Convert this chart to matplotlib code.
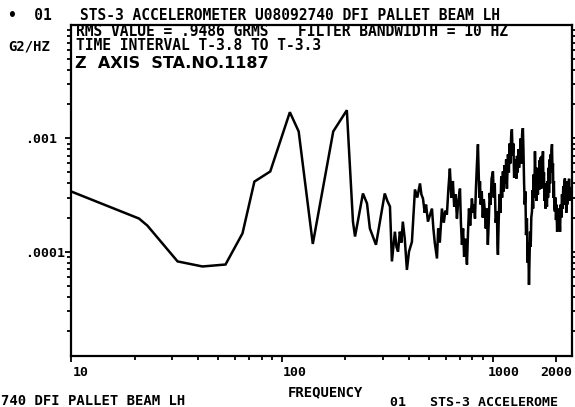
import matplotlib
matplotlib.use("Agg")
import matplotlib.pyplot as plt
from matplotlib.ticker import LogLocator, NullFormatter
import matplotlib.transforms as mtrans

# ---------------- data ----------------
freq_hz = [10, 21, 23, 32, 42, 54, 65, 74, 88, 109, 120, 140, 175, 203, 217, 222,
           242, 253, 261, 279, 307, 316, 325, 332, 343, 349, 355, 362, 368, 374, 382,
           391, 400, 413, 427, 438, 451, 458, 466, 475, 482, 492, 503, 514, 522, 530,
           543, 550, 560, 573, 585, 595, 605, 615, 625, 635, 646, 655, 665, 675, 685,
           698, 705, 713, 722, 730, 740, 753, 762, 770, 780, 795, 805, 815, 822, 830,
           840, 849, 855, 862, 868, 875, 885, 895, 905, 916, 925, 935, 946, 955, 965,
           975, 985, 1000, 1010, 1020, 1030, 1045, 1050, 1056, 1065, 1075, 1085, 1095,
           1105, 1115, 1125, 1135, 1145, 1155, 1165, 1178, 1190, 1200, 1210, 1220, 1230,
           1240, 1250, 1260, 1271, 1280, 1290, 1300, 1310, 1320, 1330, 1343, 1355, 1365,
           1375, 1387, 1395, 1405, 1415, 1425, 1435, 1449, 1460, 1470, 1482, 1492, 1500,
           1510, 1520, 1531, 1540, 1550, 1560, 1570, 1582, 1592, 1600, 1610, 1620, 1634,
           1645, 1655, 1665, 1675, 1685, 1695, 1705, 1715, 1726, 1735, 1745, 1755, 1765,
           1775, 1790, 1803, 1815, 1825, 1835, 1845, 1855, 1865, 1875, 1885, 1895, 1905,
           1915, 1925, 1935, 1945, 1955, 1968, 1980, 1990, 2000, 2015, 2030, 2045, 2060,
           2080, 2095, 2110, 2125, 2140, 2155, 2165, 2180, 2193, 2205, 2215, 2225, 2240,
           2250, 2265, 2280, 2295, 2310, 2317]

# PSD in units of 1e-4 G^2/Hz
psd_e4 = [3.4, 1.96, 1.7, 0.82, 0.74, 0.77, 1.45, 4.15, 5.1, 17.0, 11.5, 1.17, 11.5, 17.7, 1.84, 1.36,
          3.26, 2.66, 1.6, 1.15, 3.26, 2.8, 2.5, 0.82, 1.5, 1.1, 1.0, 1.5, 1.2, 1.84, 1.3,
          0.69, 1.0, 1.22, 3.54, 3.0, 4.0, 3.2, 2.94, 2.2, 2.6, 1.84, 2.1, 2.4, 1.6, 1.2,
          0.87, 1.6, 1.2, 2.4, 1.8, 2.3, 2.12, 3.6, 5.4, 3.0, 4.2, 2.5, 3.2, 1.96, 2.8,
          3.6, 1.8, 1.15, 1.6, 0.9, 1.3, 0.77, 1.5, 2.4, 1.7, 2.94, 2.2, 2.6, 1.96, 3.5,
          6.0, 8.85, 5.5, 3.0, 4.16, 2.6, 3.4, 2.0, 2.9, 2.26, 1.6, 2.4, 1.15, 1.8, 3.3,
          2.6, 4.4, 5.1, 3.0, 4.0, 1.8, 2.26, 1.2, 0.94, 1.9, 3.2, 2.2, 4.6,
          3.0, 5.1, 3.4, 5.8, 4.0, 6.5, 3.6, 7.21, 5.0, 9.0, 6.0, 10.5, 12.0,
          7.0, 9.0, 4.5, 5.1, 6.5, 4.4, 7.0, 5.0, 8.0, 5.5, 7.67, 10.0, 6.0,
          11.0, 12.3, 8.0, 4.0, 2.6, 3.4, 1.4, 1.96, 0.8, 1.2, 0.51, 0.9, 1.5,
          1.1, 2.0, 2.26, 3.5, 2.4, 4.8, 3.0, 7.67, 4.5, 5.5, 2.8, 4.0, 3.19,
          5.5, 3.5, 6.4, 4.0, 6.8, 3.6, 7.0, 4.5, 7.67, 4.0, 5.0, 2.8, 4.0,
          2.4, 3.3, 2.5, 4.2, 3.0, 5.5, 3.3, 6.5, 4.0, 7.2, 5.0, 7.8, 8.85,
          5.0, 6.0, 3.0, 4.2, 2.4, 2.26, 3.0, 1.9, 2.6, 1.5, 2.2, 1.6, 2.4,
          1.5, 2.6, 2.0, 3.2, 2.4, 3.8, 2.6, 4.0, 4.42, 3.0, 3.8, 2.2, 3.4,
          2.6, 4.2, 3.0, 4.4, 2.8, 3.61]

psd = [v * 1e-4 for v in psd_e4]

xtick_vals = [10, 100, 1000, 2000]
xtick_labels = ["10", "100", "1000", "2000"]
ytick_vals = [1e-4, 1e-3]
ytick_labels = [".0001", ".001"]

title = "STS-3 ACCELEROMETER U08092740 DFI PALLET BEAM LH"
rms_text = "RMS VALUE = .9486 GRMS"
filter_text = "FILTER BANDWIDTH = 10 HZ"
time_text = "TIME INTERVAL T-3.8 TO T-3.3"
axis_text = "Z  AXIS  STA.NO.1187"

# ---------------- figure ----------------
W, H = 575, 407
fig = plt.figure(figsize=(W / 100, H / 100), dpi=100)
fig.patch.set_facecolor("white")

def fx(px):
    return px / W

def fy(py):
    return 1 - py / H

ax = fig.add_axes([fx(71), fy(356), 501 / W, 331 / H])
ax.plot(freq_hz, psd, color="black", lw=1.8, solid_joinstyle="miter")
ax.set_xscale("log")
ax.set_yscale("log")
ax.set_xlim(10, 2370)
ax.set_ylim(1.2e-5, 1e-2)

for s in ax.spines.values():
    s.set_linewidth(1.6)
    s.set_color("black")

mono = "DejaVu Sans Mono"

ax.set_xticks(xtick_vals)
ax.set_xticklabels(xtick_labels, fontfamily=mono, fontsize=9.5, fontweight="bold")
ax.xaxis.set_minor_locator(LogLocator(base=10, subs=range(2, 10)))
ax.xaxis.set_minor_formatter(NullFormatter())

ax.set_yticks(ytick_vals)
ax.set_yticklabels(ytick_labels, fontfamily=mono, fontsize=9.5, fontweight="bold")
ax.yaxis.set_minor_locator(LogLocator(base=10, subs=range(2, 10)))
ax.yaxis.set_minor_formatter(NullFormatter())

ax.tick_params(axis="both", which="both", direction="out", width=1.3, color="black")
ax.tick_params(axis="both", which="major", length=4)
ax.tick_params(axis="both", which="minor", length=3)
ax.tick_params(axis="x", which="both", top=False, bottom=True, pad=3)
ax.tick_params(axis="y", which="both", left=True, right=True, labelright=False, pad=29)

for lbl in ax.get_yticklabels():
    lbl.set_ha("left")

x_offsets = [2, 1, -5, -16]
for lbl, dx in zip(ax.get_xticklabels(), x_offsets):
    lbl.set_ha("left")
    lbl.set_transform(lbl.get_transform() + mtrans.ScaledTranslation(dx / 100, 0, fig.dpi_scale_trans))

# ---------------- texts ----------------
kw = dict(fontfamily=mono, fontweight="bold", color="black", va="center", ha="left")
fig.text(fx(8), fy(16), "\u2022  01", fontsize=10.5, **kw)
fig.text(fx(80), fy(16), title, fontsize=10.5, **kw)
fig.text(fx(76), fy(31), rms_text, fontsize=10.5, **kw)
fig.text(fx(298), fy(31), filter_text, fontsize=10.5, **kw)
fig.text(fx(76), fy(46), time_text, fontsize=10.5, **kw)
fig.text(fx(8), fy(47), "G2/HZ", fontsize=10, **kw)
fig.text(fx(75), fy(63), axis_text, fontsize=11.5, fontfamily="DejaVu Sans",
         fontweight="bold", color="black", va="center", ha="left")
fig.text(fx(288), fy(392), "FREQUENCY", fontsize=10, **kw)
fig.text(fx(1), fy(401), "740 DFI PALLET BEAM LH", fontsize=10, **kw)
fig.text(fx(390), fy(402), "01   STS-3 ACCELEROME", fontsize=9.5, **kw)

fig.savefig("out.png", dpi=100, facecolor="white")
